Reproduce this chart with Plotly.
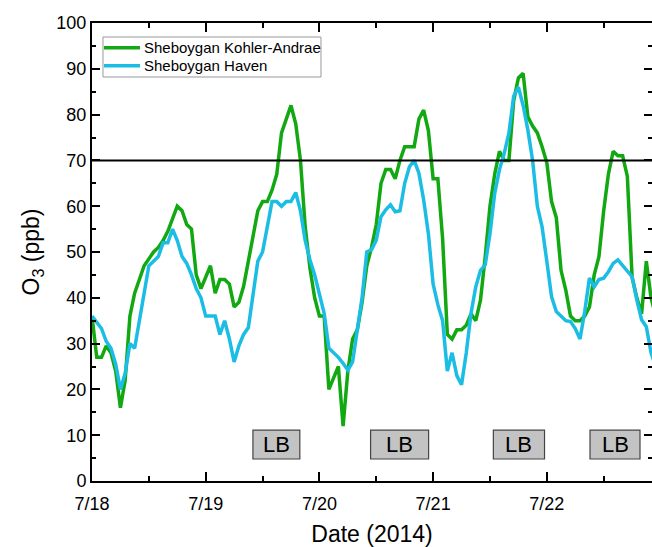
import pandas as pd
import plotly.graph_objects as go

start = "2014-07-18 00:00"
kohler_andrae = [36, 27, 27, 29.5, 28, 24, 16, 22, 36, 41, 44, 47, 48.5, 50, 51, 52.5, 54.5, 57.5, 60, 59,
                 56, 55, 45, 42, 44.5, 47, 41, 44, 44, 43, 38, 39, 42.5, 48, 54, 59, 61, 61, 63.5, 67,
                 76, 79, 82, 78, 70, 55.5, 46.5, 40, 36, 36, 20, 22.5, 25, 12, 24, 31, 33, 39, 47, 51,
                 56, 65, 68, 68, 66, 70, 73, 73, 73, 79, 81, 76.5, 66, 66, 53, 32, 31, 33, 33, 34,
                 36.5, 35, 39.5, 49, 60, 67, 72, 70, 70, 83, 88, 89, 79.5, 77.5, 76, 73, 69.5, 61, 57.5, 46,
                 41.7, 36, 35, 35, 36, 38, 45, 49, 59, 67, 72, 71, 71, 66.5, 44.5, 40, 36.5, 48, 40, 36]
haven = [36, 34.5, 33.3, 30.5, 29, 25.5, 20, 23.5, 30, 29, 35, 42, 47, 48, 49, 52, 52, 55, 52.5, 49,
         47.5, 45, 42, 40, 36, 36, 36, 32, 35, 31, 26, 29.5, 32, 33.5, 41, 48, 50, 55.5, 61, 61,
         60, 61, 61, 63, 59, 52.5, 48.3, 45, 41, 36.6, 29, 28, 27, 25.7, 24.2, 26, 33, 40, 50, 50.5,
         52.6, 57.7, 59.2, 60.3, 58.8, 59, 65, 68.6, 70, 67.2, 61.4, 54, 43, 38.5, 35, 24, 28, 23, 21, 28,
         36.6, 42.4, 46, 47.2, 54, 62.8, 68, 71.5, 76, 84, 86, 82, 76.6, 70, 60, 55.5, 48, 40.2, 37, 36,
         35, 34.8, 33.3, 31, 37, 44.3, 42.4, 44, 44.3, 45.7, 47.5, 48.3, 47, 45.7, 44.6, 39.5, 35.2, 33.7, 28, 25]
series_names = ["Sheboygan Kohler-Andrae", "Sheboygan Haven"]
series_colors = ["#12A812", "#1BBDE4"]
standard_ppb = 70
lb_periods = [("2014-07-19 09:58", "2014-07-19 19:52"),
              ("2014-07-20 10:48", "2014-07-20 23:03"),
              ("2014-07-21 12:43", "2014-07-21 23:31"),
              ("2014-07-22 09:07", "2014-07-22 19:40")]
lb_label = "LB"
day_ticks = ["2014-07-18", "2014-07-19", "2014-07-20", "2014-07-21", "2014-07-22"]
day_labels = ["7/18", "7/19", "7/20", "7/21", "7/22"]

FONT = "Liberation Sans, Arial"
times = pd.date_range(start, periods=len(kohler_andrae), freq="h")
x_end = pd.Timestamp(start) + pd.Timedelta(hours=118.2)

fig = go.Figure()
for name, vals, col in zip(series_names, [kohler_andrae, haven], series_colors):
    fig.add_trace(go.Scatter(x=times, y=vals, mode="lines", name=name,
                             line=dict(color=col, width=3.5), showlegend=False))

fig.add_shape(type="line", xref="paper", x0=0, x1=1, yref="y", y0=standard_ppb, y1=standard_ppb,
              line=dict(color="black", width=2))
for a, b in lb_periods:
    fig.add_shape(type="rect", xref="x", yref="y", x0=a, x1=b, y0=4.8, y1=11.1,
                  fillcolor="#C3C3C3", line=dict(color="#444444", width=1.2))
    mid = pd.Timestamp(a) + (pd.Timestamp(b) - pd.Timestamp(a)) / 2
    fig.add_annotation(x=mid, y=7.95, text=lb_label, showarrow=False,
                       font=dict(family=FONT, size=22, color="black"))

# legend box drawn manually (paper coordinates)
fig.add_shape(type="rect", xref="paper", yref="paper", x0=0.0196, x1=0.4089, y0=0.8821, y1=0.9694,
              fillcolor="white", line=dict(color="#999999", width=1), layer="above")
for i, (name, col) in enumerate(zip(series_names, series_colors)):
    yy = 0.946 - i * 0.0393
    fig.add_shape(type="line", xref="paper", yref="paper", x0=0.0214, x1=0.0857, y0=yy, y1=yy,
                  line=dict(color=col, width=3.5), layer="above")
    fig.add_annotation(xref="paper", yref="paper", x=0.0893, y=yy, text=name, showarrow=False,
                       xanchor="left", yanchor="middle",
                       font=dict(family=FONT, size=15, color="black"))

axis_common = dict(showline=True, linecolor="black", linewidth=2, mirror="ticks",
                   ticks="inside", tickcolor="black", tickwidth=2, showgrid=False, zeroline=False,
                   tickfont=dict(family=FONT, size=18, color="black"))
fig.update_layout(
    width=652, height=547,
    margin=dict(l=92, r=0, t=23, b=66),
    paper_bgcolor="white", plot_bgcolor="white",
    showlegend=False,
    xaxis=dict(type="date", range=[pd.Timestamp(start), x_end],
               tickvals=day_ticks, ticktext=day_labels, ticklen=9, ticklabelstandoff=5,
               minor=dict(ticks="inside", dtick=43200000, tick0=start, ticklen=5,
                          tickcolor="black", tickwidth=2, showgrid=False),
               title=dict(text="Date (2014)", standoff=18,
                          font=dict(family=FONT, size=23, color="black")),
               automargin=False, **axis_common),
    yaxis=dict(range=[0, 100], dtick=10, ticklen=8,
               minor=dict(ticks="inside", dtick=5, ticklen=4, tickcolor="black", tickwidth=2,
                          showgrid=False),
               title=dict(text="O<sub>3</sub> (ppb)", standoff=10,
                          font=dict(family=FONT, size=23, color="black")),
               automargin=False, **axis_common),
)
fig.write_html("out.html")
